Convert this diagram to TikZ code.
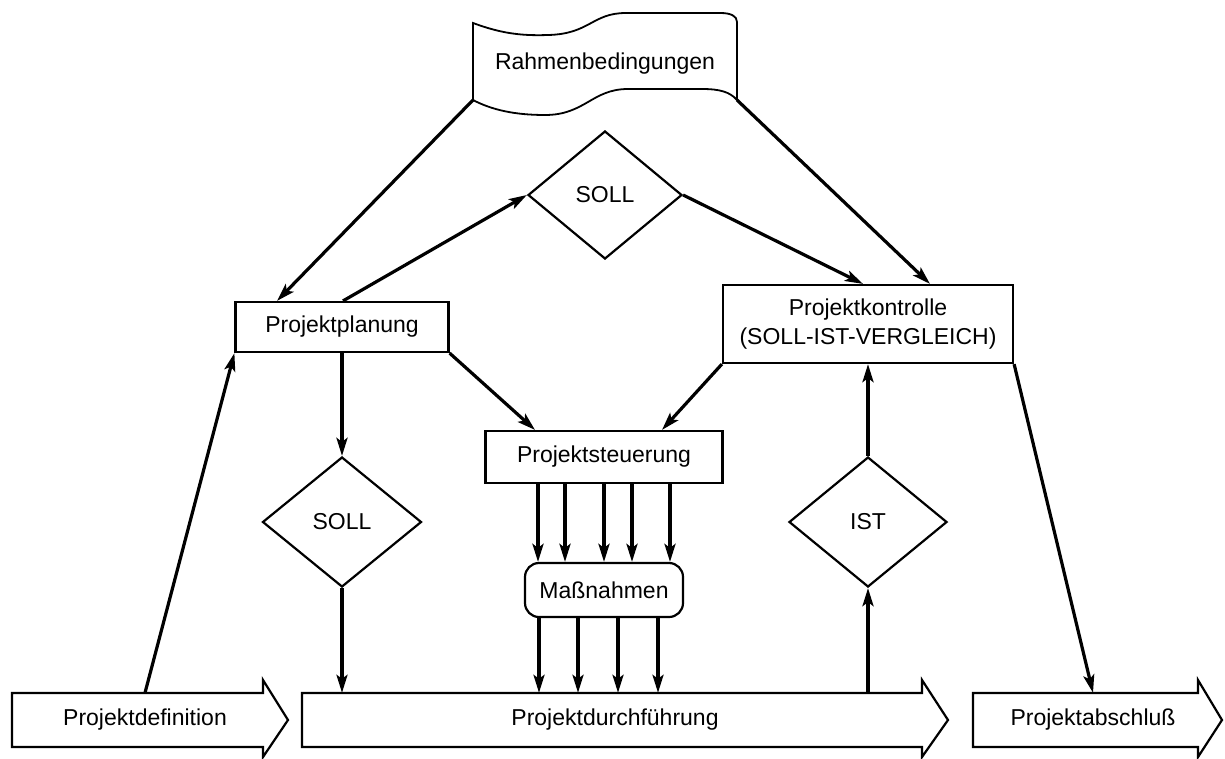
\documentclass[tikz,border=0pt]{standalone}
\usepackage{fontspec}
\setmainfont{Liberation Sans}
\usetikzlibrary{arrows.meta,shapes.geometric}
\begin{document}
\begin{tikzpicture}[x=1pt,y=-1pt,
  every node/.style={font=\fontsize{23}{29}\selectfont, inner sep=0pt},
  box/.style={draw, rectangle, line width=2.2pt},
  rhombus/.style={draw, diamond, line width=2.2pt},
  outline/.style={line width=2.2pt, line join=miter},
  conn/.style={line width=3.2pt, -{Stealth[length=18pt,width=11pt,inset=4pt]}}
]
\useasboundingbox (0,0) rectangle (1225,758);
\fill[white] (0,0) rectangle (1225,758);

% banner with the framework conditions
\draw[outline, line width=1.8pt]
  (473,23) .. controls (500,33) and (520,36) .. (548,35)
  .. controls (590,34) and (592,13) .. (626,13) -- (720,13)
  .. controls (731,13) and (737,16) .. (737,22) -- (737,100)
  .. controls (730,92) and (720,89) .. (702,89) -- (628,89)
  .. controls (592,89) and (585,115) .. (545,115)
  .. controls (515,115) and (492,110) .. (473,100) -- cycle;
\node (rahmen) at (605,64) {Rahmenbedingungen};
\coordinate (rbl) at (473,100);
\coordinate (rbr) at (737,100);

% process boxes
\node[box, minimum width=213, minimum height=50] (plan) at (342,327) {Projektplanung};
\node[box, minimum width=290, minimum height=78, align=center] (kon) at (868,324)
  {Projektkontrolle\\(SOLL-IST-VERGLEICH)};
\node[box, minimum width=237, minimum height=52] (steu) at (604,457) {Projektsteuerung};
\node[box, rounded corners=14pt, minimum width=158, minimum height=54] (mass) at (604,590) {Maßnahmen};

% decision diamonds
\node[rhombus, minimum width=154, minimum height=128] (soll1) at (605,195) {SOLL};
\node[rhombus, minimum width=159, minimum height=130] (soll2) at (342,522) {SOLL};
\node[rhombus, minimum width=158, minimum height=130] (ist) at (868,522) {IST};

% phase arrows along the bottom
\draw[outline] (12,693) -- (263,693) -- (263,680) -- (288,720) -- (263,757)
  -- (263,747) -- (12,747) -- cycle;
\draw[outline] (302,693) -- (922,693) -- (922,680) -- (948,720) -- (922,757)
  -- (922,747) -- (302,747) -- cycle;
\draw[outline] (973,693) -- (1198,693) -- (1198,680) -- (1222,720) -- (1198,757)
  -- (1198,747) -- (973,747) -- cycle;
\node[minimum width=266, minimum height=54] (pdef) at (145,720) {Projektdefinition};
\node[minimum width=626, minimum height=54] (pdur) at (615,720) {Projektdurchführung};
\node[minimum width=240, minimum height=54] (pab) at (1093,720) {Projektabschluß};

% connectors
\draw[conn] (rbl) -- ([xshift=-65]plan.north);
\draw[conn] (rbr) -- ([xshift=62]kon.north);
\draw[conn] ([xshift=1]plan.north) -- (soll1.west);
\draw[conn] (soll1.east) -- ([xshift=-5]kon.north);
\draw[conn] (plan.south) -- (soll2.north);
\draw[conn] (plan.south east) -- ([xshift=-69]steu.north);
\draw[conn] (kon.south west) -- ([xshift=58]steu.north);
\draw[conn] (ist.north) -- (kon.south);
\draw[conn] ([xshift=253]pdur.north) -- (ist.south);
\draw[conn] (soll2.south) -- ([xshift=-273]pdur.north);
\draw[conn] (pdef.north) -- (plan.south west);
\draw[conn] (kon.south east) -- (pab.north);

% control measures
\foreach \d in {-66,-39,0,28,66}
  \draw[conn] ([xshift=\d]steu.south) -- ([xshift=\d]mass.north);
\foreach \a/\b in {-65/-76,-26/-37,14/3,54/43}
  \draw[conn] ([xshift=\a]mass.south) -- ([xshift=\b]pdur.north);
\end{tikzpicture}
\end{document}
